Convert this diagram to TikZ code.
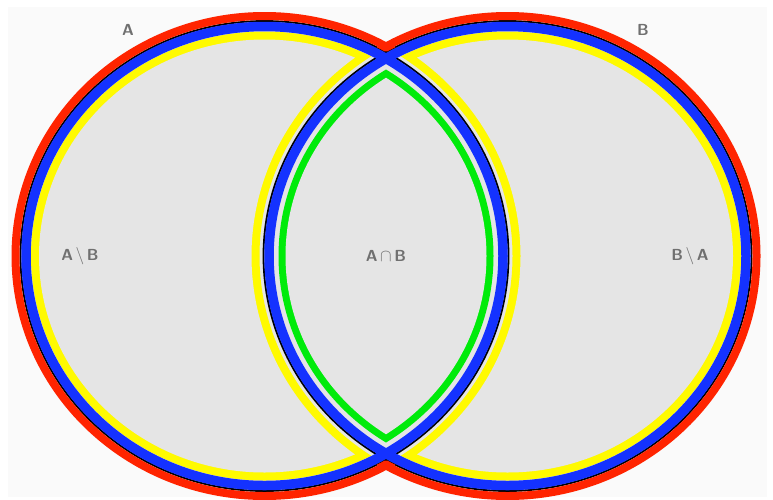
\documentclass[tikz,border=0pt]{standalone}
\usepackage{amssymb}
\definecolor{vennred}{RGB}{255,36,0}
\definecolor{vennblue}{RGB}{20,50,255}
\definecolor{vennyellow}{RGB}{255,250,0}
\definecolor{venngreen}{RGB}{0,235,10}
\definecolor{venngray}{RGB}{229,229,229}
\definecolor{vennbg}{RGB}{250,250,250}
\definecolor{venntext}{RGB}{112,112,112}
\tikzset{
  setlabel/.style={font=\sffamily\bfseries\fontsize{16}{18}\selectfont,
                   text=venntext, inner sep=1pt},
  outline/.style={draw=black, line width=1.8pt},
  innerring/.style={draw=vennblue, line width=9.5pt},
  outerring/.style={draw=vennred, line width=8pt},
}
% ellipse of set A / B, widened by #1 (negative = inset)
\newcommand{\ringA}[1]{(cA) ellipse [x radius={244+#1}, y radius={235+#1}]}
\newcommand{\ringB}[1]{(cB) ellipse [x radius={244+#1}, y radius={235+#1}]}
\newcommand{\wholepage}{(-20,-20) rectangle (800,520)}

\begin{document}
\begin{tikzpicture}[x=1pt, y=-1pt]
  \useasboundingbox (0,0) rectangle (773,499);
  \fill[vennbg] (8,7) rectangle (767,497);
  \coordinate (cA) at (264.5,256);
  \coordinate (cB) at (507.5,256);

  % union
  \fill[venngray] \ringA{0} \ringB{0};

  % A \ B
  \begin{scope}
    \clip \ringA{-10.5};
    \fill[vennyellow, even odd rule] \wholepage \ringB{4};
  \end{scope}
  \begin{scope}
    \clip \ringA{-18.5};
    \fill[venngray, even odd rule] \wholepage \ringB{12};
  \end{scope}
  % B \ A
  \begin{scope}
    \clip \ringB{-10.5};
    \fill[vennyellow, even odd rule] \wholepage \ringA{4};
  \end{scope}
  \begin{scope}
    \clip \ringB{-18.5};
    \fill[venngray, even odd rule] \wholepage \ringA{12};
  \end{scope}

  % A cap B
  \begin{scope}
    \clip \ringA{-15};
    \fill[venngreen] \ringB{-15};
  \end{scope}
  \begin{scope}
    \clip \ringA{-22};
    \fill[venngray] \ringB{-22};
  \end{scope}

  % the two sets
  \draw[outline] \ringA{0} \ringB{0};
  \draw[innerring] \ringA{-5.5} \ringB{-5.5};

  % A cup B
  \begin{scope}[even odd rule]
    \clip \wholepage \ringB{0};
    \draw[outerring] \ringA{5};
  \end{scope}
  \begin{scope}[even odd rule]
    \clip \wholepage \ringA{0};
    \draw[outerring] \ringB{5};
  \end{scope}

  \node[setlabel] (labA) at (128,30) {A};
  \node[setlabel] (labB) at (643,30) {B};
  \node[setlabel] (labAminusB) at (80,256) {A\,$\setminus$\,B};
  \node[setlabel] (labAcapB) at (386,256) {A\,$\cap$\,B};
  \node[setlabel] (labBminusA) at (690,256) {B\,$\setminus$\,A};
\end{tikzpicture}
\end{document}
